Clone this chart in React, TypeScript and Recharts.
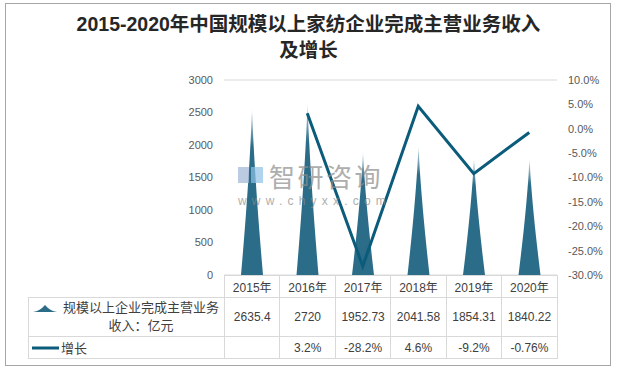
import React from "react";
import { Bar, CartesianGrid, ComposedChart, Line, XAxis, YAxis } from "recharts";

const years = ["2015年", "2016年", "2017年", "2018年", "2019年", "2020年"];
const revenue = [2635.4, 2720, 1952.73, 2041.58, 1854.31, 1840.22];
const growth = [null, 3.2, -28.2, 4.6, -9.2, -0.76];
const growthLabels = ["", "3.2%", "-28.2%", "4.6%", "-9.2%", "-0.76%"];
const leftTicks = [0, 500, 1000, 1500, 2000, 2500, 3000];
const rightTicks = [-30, -25, -20, -15, -10, -5, 0, 5, 10];

const data = years.map((y, i) => ({ year: y, revenue: revenue[i], growth: growth[i] }));

const BAR = "#2B6C88";
const LINE = "#0B5B7B";
const GRID = "#D9D9D9";
const TXT = "#404040";
const FONT = '"Liberation Sans", "Noto Sans CJK SC", sans-serif';

const tick = { fill: "#595959", fontSize: 11, fontFamily: FONT };

// pointed spike with concave sides, faded to white at the tip
function Spike(props: any) {
  const { x, y, width, height } = props;
  if (!height || height <= 0) return null;
  const cx = x + width / 2;
  const hw = width / 2;
  const bottom = y + height;
  const n = 24;
  const left: string[] = [];
  const right: string[] = [];
  for (let k = 0; k <= n; k++) {
    const t = k / n;
    const w = hw * Math.pow(1 - t, 1.35);
    const py = bottom - t * height;
    left.push(`${cx - w},${py}`);
    right.unshift(`${cx + w},${py}`);
  }
  const d = `M${left.join(" L")} L${right.join(" L")} Z`;
  return <path d={d} fill="url(#spikeFill)" />;
}

export default function App() {
  const col = 55.45;
  return (
    <div
      style={{
        position: "absolute",
        left: 0,
        top: 0,
        width: 617,
        height: 372,
        background: "#fff",
        fontFamily: FONT,
      }}
    >
      <div
        style={{
          position: "absolute",
          left: 5,
          top: 3,
          width: 604,
          height: 361,
          border: "1px solid #A6A6A6",
        }}
      />
      <div
        style={{
          position: "absolute",
          left: 0,
          top: 11,
          width: 617,
          textAlign: "center",
          fontSize: 19.5,
          fontWeight: "bold",
          lineHeight: "26px",
          color: "#262626",
        }}
      >
        2015-2020年中国规模以上家纺企业完成主营业务收入
        <br />
        及增长
      </div>

      <div style={{ position: "absolute", left: 0, top: 0 }}>
        <ComposedChart width={617} height={300} data={data} margin={{ top: 80, right: 0, bottom: 25, left: 0 }}>
          <defs>
            <linearGradient id="spikeFill" x1="0" y1="0" x2="0" y2="1">
              <stop offset="0" stopColor="#ffffff" stopOpacity={0} />
              <stop offset="0.08" stopColor={BAR} stopOpacity={0.4} />
              <stop offset="0.25" stopColor={BAR} stopOpacity={1} />
              <stop offset="1" stopColor={BAR} stopOpacity={1} />
            </linearGradient>
          </defs>
          <CartesianGrid vertical={false} stroke={GRID} />
          <XAxis dataKey="year" hide />
          <YAxis
            yAxisId="l"
            width={224}
            domain={[0, 3000]}
            ticks={leftTicks}
            axisLine={false}
            tickLine={false}
            tickMargin={5}
            tick={tick}
            interval={0}
          />
          <YAxis
            yAxisId="r"
            orientation="right"
            width={60}
            domain={[-30, 10]}
            ticks={rightTicks}
            axisLine={false}
            tickLine={false}
            tickMargin={5}
            tick={{ ...tick, textAnchor: "start" }}
            tickFormatter={(v: number) => `${v.toFixed(1)}%`}
            interval={0}
          />
          <Bar yAxisId="l" dataKey="revenue" barSize={22} shape={<Spike />} isAnimationActive={false} />
          <Line
            yAxisId="r"
            dataKey="growth"
            stroke={LINE}
            strokeWidth={3}
            dot={false}
            activeDot={false}
            isAnimationActive={false}
          />
        </ComposedChart>
      </div>

      {/* watermark */}
      <div style={{ position: "absolute", left: 238, top: 166, opacity: 0.7, pointerEvents: "none" }}>
        <div style={{ position: "absolute", left: 0, top: 1, width: 11, height: 16, background: "#9FB6D6" }} />
        <div style={{ position: "absolute", left: 13, top: 1, width: 12, height: 16, background: "#8FC3E8" }} />
        <div
          style={{
            position: "absolute",
            left: 31,
            top: -3,
            fontSize: 26,
            lineHeight: "26px",
            color: "#8C8C8C",
            fontFamily: '"Noto Sans CJK SC", sans-serif',
            whiteSpace: "nowrap",
            letterSpacing: 2.5,
          }}
        >
          智研咨询
        </div>
        <div
          style={{
            position: "absolute",
            left: 0,
            top: 29,
            fontSize: 12,
            lineHeight: "12px",
            color: "#8C8C8C",
            whiteSpace: "nowrap",
            letterSpacing: 5.2,
          }}
        >
          www.chyxx.com
        </div>
      </div>

      {/* data table */}
      <table
        style={{
          position: "absolute",
          left: 28,
          top: 275,
          borderCollapse: "collapse",
          tableLayout: "fixed",
          fontSize: 12,
          color: TXT,
          fontFamily: FONT,
        }}
      >
        <colgroup>
          <col style={{ width: 196 }} />
          {years.map((y) => (
            <col key={y} style={{ width: col }} />
          ))}
        </colgroup>
        <tbody>
          <tr style={{ height: 22 }}>
            <td style={{ border: "none", padding: 0 }} />
            {years.map((y) => (
              <td key={y} style={{ border: `1px solid ${GRID}`, textAlign: "center", padding: 0 }}>
                {y}
              </td>
            ))}
          </tr>
          <tr style={{ height: 39 }}>
            <td style={{ border: `1px solid ${GRID}`, padding: 0 }}>
              <div style={{ display: "flex", alignItems: "flex-start" }}>
                <svg width={32} height={14} style={{ marginTop: 4, flex: "none" }}>
                  <path d="M4,9 Q11,8 16,2 Q21,8 28,9 Z" fill={BAR} />
                </svg>
                <div style={{ textAlign: "center", fontSize: 13, lineHeight: "18px", width: 160 }}>
                  规模以上企业完成主营业务
                  <br />
                  收入：亿元
                </div>
              </div>
            </td>
            {revenue.map((v, i) => (
              <td key={i} style={{ border: `1px solid ${GRID}`, textAlign: "center", padding: 0 }}>
                {v}
              </td>
            ))}
          </tr>
          <tr style={{ height: 22 }}>
            <td style={{ border: `1px solid ${GRID}`, padding: 0 }}>
              <div style={{ display: "flex", alignItems: "center" }}>
                <svg width={32} height={10} style={{ flex: "none" }}>
                  <line x1={3} y1={5} x2={30} y2={5} stroke={LINE} strokeWidth={3} />
                </svg>
                <span style={{ fontSize: 13 }}>增长</span>
              </div>
            </td>
            {growthLabels.map((g, i) => (
              <td key={i} style={{ border: `1px solid ${GRID}`, textAlign: "center", padding: 0 }}>
                {g}
              </td>
            ))}
          </tr>
        </tbody>
      </table>
    </div>
  );
}
